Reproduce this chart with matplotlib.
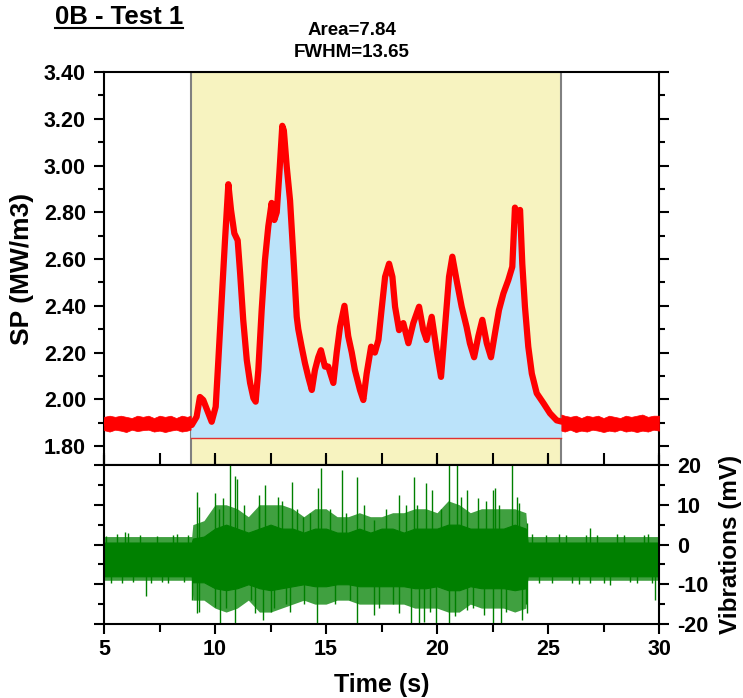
import matplotlib
matplotlib.use("Agg")
import matplotlib.pyplot as plt
from matplotlib.ticker import MultipleLocator, FormatStrFormatter
from matplotlib.lines import Line2D

plt.rcParams['font.family'] = ['Liberation Sans', 'DejaVu Sans']
plt.rcParams['font.weight'] = 'bold'
plt.rcParams['axes.unicode_minus'] = False

# ---------------- data ----------------
# SP curve (centre of the red trace)
sp_time = [5.0, 8.9, 8.95, 9.17, 9.32, 9.47, 9.62, 9.85, 10.03, 10.15, 10.30, 10.45,
           10.6, 10.72, 10.87, 11.02, 11.13, 11.27, 11.43, 11.58, 11.73, 11.83, 11.95,
           12.1, 12.25, 12.40, 12.55, 12.67, 12.78, 12.9, 13.03, 13.1, 13.23, 13.38,
           13.53, 13.68, 13.75, 13.9, 14.05, 14.2, 14.36, 14.5, 14.65, 14.77, 14.95,
           15.1, 15.33, 15.48, 15.63, 15.83, 16.0, 16.16, 16.3, 16.53, 16.68, 16.83,
           17.03, 17.2, 17.36, 17.5, 17.66, 17.84, 17.99, 18.11, 18.29, 18.48, 18.71,
           18.93, 19.19, 19.38, 19.53, 19.76, 19.98, 20.18, 20.36, 20.54, 20.69, 20.88,
           21.11, 21.33, 21.48, 21.67, 21.86, 22.04, 22.24, 22.43, 22.61, 22.79, 22.99,
           23.21, 23.39, 23.51, 23.62, 23.74, 23.84, 23.96, 24.11, 24.27, 24.49, 24.79,
           25.09, 25.39, 25.6, 30.0]
sp_val = [1.90, 1.90, 1.89, 1.925, 2.01, 1.997, 1.96, 1.904, 1.968, 2.168, 2.425, 2.681,
          2.92, 2.81, 2.71, 2.68, 2.54, 2.34, 2.168, 2.07, 2.005, 1.99, 2.125,
          2.38, 2.596, 2.74, 2.84, 2.767, 2.80, 2.97, 3.17, 3.15, 2.995, 2.85,
          2.61, 2.353, 2.30, 2.225, 2.155, 2.096, 2.04, 2.125, 2.18, 2.21, 2.14,
          2.14, 2.07, 2.20, 2.31, 2.40, 2.27, 2.20, 2.125, 2.04, 1.997, 2.11,
          2.225, 2.20, 2.254, 2.382, 2.524, 2.58, 2.524, 2.396, 2.296, 2.326, 2.24,
          2.326, 2.396, 2.296, 2.254, 2.353, 2.21, 2.096, 2.31, 2.524, 2.61, 2.51,
          2.396, 2.31, 2.24, 2.18, 2.27, 2.34, 2.24, 2.18, 2.283, 2.382, 2.453,
          2.51, 2.567, 2.82, 2.767, 2.81, 2.58, 2.396, 2.225, 2.11, 2.026, 1.984,
          1.94, 1.91, 1.905, 1.90]

# noisy baseline outside the integration window (upper / lower edge of the band)
pre_t = [5.0, 5.25, 5.5, 5.75, 6.0, 6.25, 6.5, 6.75, 7.0, 7.25, 7.5, 7.75, 8.0, 8.25,
         8.5, 8.75, 8.9]
pre_hi = [1.925, 1.93, 1.925, 1.93, 1.925, 1.92, 1.93, 1.925, 1.93, 1.92, 1.93, 1.925,
          1.93, 1.92, 1.93, 1.925, 1.93]
pre_lo = [1.868, 1.862, 1.87, 1.866, 1.86, 1.87, 1.864, 1.868, 1.87, 1.862, 1.866, 1.86,
          1.866, 1.87, 1.862, 1.866, 1.87]
post_t = [25.6, 25.75, 26.0, 26.25, 26.5, 26.75, 27.0, 27.25, 27.5, 27.75, 28.0, 28.25,
          28.5, 28.75, 29.0, 29.25, 29.5, 29.75, 30.0]
post_hi = [1.935, 1.93, 1.925, 1.93, 1.92, 1.93, 1.925, 1.93, 1.92, 1.93, 1.925, 1.92,
           1.93, 1.925, 1.93, 1.935, 1.925, 1.93, 1.93]
post_lo = [1.866, 1.862, 1.87, 1.86, 1.866, 1.862, 1.87, 1.866, 1.86, 1.866, 1.862, 1.87,
           1.862, 1.866, 1.86, 1.866, 1.862, 1.87, 1.866]

win_start, win_end = 8.9, 25.6
fill_base = 1.834
area_text = "Area=7.84"
fwhm_text = "FWHM=13.65"

# vibrations: dense core and sparser outer fringe of the green trace
vib_t = [5.0, 8.95, 9.0, 9.5, 10.0, 10.5, 11.0, 11.5, 12.0, 12.5, 13.0, 13.5, 14.0,
         14.5, 15.0, 15.5, 16.0, 16.5, 17.0, 17.5, 18.0, 18.5, 19.0, 19.5, 20.0, 20.5,
         21.0, 21.5, 22.0, 22.5, 23.0, 23.5, 24.0, 24.08, 30.0]
core_hi = [0.5, 0.5, 1.5, 2, 4, 5, 4, 3, 4, 5, 4, 4, 3, 4, 4, 3, 3, 4, 3, 4, 4, 3, 4,
           4, 4, 5, 5, 4, 4, 4, 4, 5, 4, 0.5, 0.5]
core_lo = [-8, -8, -9.5, -9.5, -11, -11.5, -11, -10, -11, -11.5, -11, -10.5, -10,
           -10.5, -10.5, -10, -10, -10.5, -10.5, -10.5, -10.5, -10.5, -11, -11, -10.5,
           -11.5, -11.5, -10.5, -11, -11, -11, -11.5, -11, -8, -8]
out_hi = [2, 2, 5, 6, 10, 10, 9, 7, 10, 10, 10, 9, 7, 9, 9, 7, 7, 8, 7, 7, 8, 8, 9, 9,
          8, 11, 10, 8, 9, 9, 9, 9, 8, 2, 2]
out_lo = [-9, -9, -14, -14, -16, -17, -16, -14, -17, -17, -16, -15, -14, -15, -15, -14,
          -14, -15, -15, -15, -15, -15, -16, -16, -16, -17, -17, -15, -16, -16, -16,
          -17, -16, -9, -9]

# individual spikes sticking out of the trace
spike_t = [5.94, 9.17, 9.30, 10.01, 10.35, 10.69, 10.91, 11.0, 11.98, 12.23, 12.83,
           13.48, 13.95, 14.65, 14.78, 15.70, 16.39, 17.14, 18.27, 18.96, 19.49, 19.77,
           20.56, 20.90, 21.37, 21.84, 22.53, 22.59, 23.39, 23.71, 24.05, 26.9,
           6.88, 8.98, 9.17, 9.30, 10.01, 10.24, 10.91, 11.79, 12.17, 12.64, 13.39,
           14.61, 16.39, 17.14, 18.27, 18.83, 19.21, 19.40, 19.96, 20.56, 21.37, 22.12,
           22.53, 22.87, 23.81, 24.05, 26.9, 29.81,
           5.1, 5.3, 5.6, 5.8, 6.1, 6.3, 6.6, 7.1, 7.4, 7.6, 7.9, 8.1, 8.3, 8.6, 8.8,
           24.3, 24.6, 24.9, 25.2, 25.5, 25.8, 26.1, 26.4, 26.7, 27.2, 27.5, 27.8,
           28.1, 28.4, 28.7, 29.0, 29.3, 29.5, 29.7,
           10.2, 10.5, 11.3, 11.6, 12.0, 12.5, 13.0, 13.2, 13.7, 14.0, 14.3, 15.2, 15.4,
           15.9, 16.1, 16.7, 17.4, 17.7, 18.0, 18.6, 19.1, 19.7, 20.2, 20.8, 21.1, 21.6,
           22.2, 22.8, 23.1, 23.6, 24.0]
spike_v = [3.2, 13.3, 9.5, 12.9, 11.6, 20, 17.2, 16.6, 12.5, 15, 12, 15.8, 7, 14.1,
           19.2, 18.7, 17, 6.2, 12.5, 17, 15.4, 13.7, 20, 20, 13.7, 11.6, 13.7, 14.1,
           20, 10.4, 5.3, 4.1,
           -13, -14, -17.3, -17, -15.6, -20, -20, -17.3, -19, -16, -16.9, -20, -20,
           -17.7, -17.3, -20, -20, -19.4, -20, -20, -16.5, -17.7, -20, -19.7, -19,
           -17.3, -9.8, -14,
           2.2, -9.6, 2.6, -9.8, 2.8, -9.4, 2.4, -9.7, 2.2, -9.5, -9.8, 2.5, 2.6, -9.5,
           2.3,
           2.6, -9.7, 2.4, -9.6, 2.7, 2.5, -9.8, -10, 2.4, 2.5, -9.6, -10.2, 2.6, 2.3,
           -9.5, -9.6, 2.5, 2.6, -9.8,
           9, -16, 10, -14, 10, -17, 11, -15, 9, -15, 8, 9, -15, 8, -14, 10, -16, 9,
           -15, 10, 10, -17, 9, -18, 12, -16, 11, 10, -17, 12, -15]
vib_centre = -3.5

# ---------------- figure ----------------
fig = plt.figure(figsize=(7.43, 6.98), dpi=100)
ax1 = fig.add_axes([0.140, 0.3338, 0.747, 0.563])
ax2 = fig.add_axes([0.140, 0.106, 0.747, 0.2278])

red = '#FF0000'
green = '#008000'

ax1.axvspan(win_start, win_end, facecolor='#F7F3C0', edgecolor='#808080', lw=1.5, zorder=0)
inside = [(t >= win_start) and (t <= win_end) for t in sp_time]
ax1.fill_between(sp_time, fill_base, sp_val, where=inside, color='#BBE3FA', lw=0, zorder=1)
ax1.plot([win_start, win_end], [fill_base, fill_base], color='#E03030', lw=1, zorder=2)
ax1.fill_between(pre_t, pre_lo, pre_hi, color=red, lw=0.5, zorder=3)
ax1.fill_between(post_t, post_lo, post_hi, color=red, lw=0.5, zorder=3)
ax1.plot(sp_time, sp_val, color=red, lw=4.5, solid_joinstyle='round', zorder=4)

ax1.set_xlim(5, 30)
ax1.set_ylim(1.719, 3.40)
ax1.yaxis.set_major_locator(MultipleLocator(0.2))
ax1.yaxis.set_minor_locator(MultipleLocator(0.1))
ax1.yaxis.set_major_formatter(FormatStrFormatter('%.2f'))
ax1.xaxis.set_major_locator(MultipleLocator(5))
ax1.xaxis.set_minor_locator(MultipleLocator(2.5))
ax1.tick_params(axis='y', which='both', direction='out', left=True, right=True,
                labelleft=True, labelright=False, labelsize=15.5, width=1.5, pad=6)
ax1.tick_params(axis='y', which='major', length=7)
ax1.tick_params(axis='y', which='minor', length=4)
ax1.tick_params(axis='x', which='both', direction='in', bottom=True, top=False,
                labelbottom=False, width=1.5, length=9)
ax1.set_ylabel('SP (MW/m3)', fontsize=19, fontweight='bold', labelpad=7)
for s in ax1.spines.values():
    s.set_linewidth(1.5)

# vibrations
ax2.fill_between(vib_t, out_lo, out_hi, color=green, alpha=0.75, lw=0)
ax2.fill_between(vib_t, core_lo, core_hi, color=green, lw=0.8)
ax2.vlines(spike_t, vib_centre, spike_v, color=green, lw=1)
ax2.set_xlim(5, 30)
ax2.set_ylim(-20, 20)
ax2.xaxis.set_major_locator(MultipleLocator(5))
ax2.xaxis.set_minor_locator(MultipleLocator(2.5))
ax2.yaxis.set_major_locator(MultipleLocator(10))
ax2.yaxis.set_minor_locator(MultipleLocator(5))
ax2.tick_params(axis='x', which='both', direction='out', bottom=True, top=False,
                labelsize=15.5, width=1.5, length=6)
ax2.tick_params(axis='x', which='major', top=True, length=7)
ax2.tick_params(axis='y', which='both', direction='out', left=True, right=True,
                labelleft=False, labelright=True, labelsize=15.5, width=1.5, pad=6)
ax2.tick_params(axis='y', which='major', length=7)
ax2.tick_params(axis='y', which='minor', length=4)
ax2.yaxis.set_label_position('right')
ax2.set_ylabel('Vibrations (mV)', fontsize=17.5, fontweight='bold', labelpad=8)
ax2.set_xlabel('Time (s)', fontsize=18, fontweight='bold', labelpad=10)
for s in ax2.spines.values():
    s.set_linewidth(1.5)

# titles
title = fig.text(0.074, 0.976, '0B - Test 1', fontsize=18.5, fontweight='bold',
                 ha='left', va='center')
fig.text(0.474, 0.957, area_text, fontsize=13.5, fontweight='bold', ha='center', va='center')
fig.text(0.474, 0.925, fwhm_text, fontsize=13.5, fontweight='bold', ha='center', va='center')

fig.canvas.draw()
bb = title.get_window_extent().transformed(fig.transFigure.inverted())
fig.add_artist(Line2D([bb.x0, bb.x1], [bb.y0 + 0.001, bb.y0 + 0.001],
                      transform=fig.transFigure, color='black', lw=1.5))

fig.savefig('out.png', dpi=100)
